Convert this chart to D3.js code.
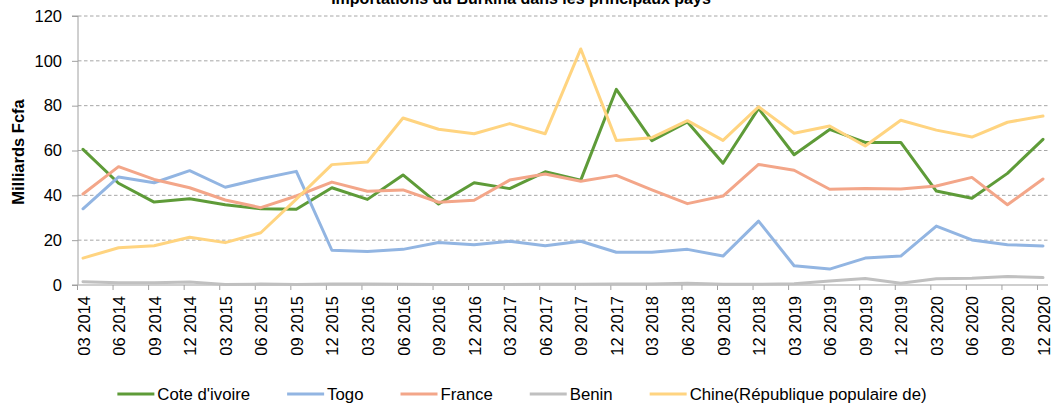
<!DOCTYPE html>
<html>
<head>
<meta charset="utf-8">
<script src="https://cdn.jsdelivr.net/npm/d3@7"></script>
<style>
  html, body { margin: 0; padding: 0; background: #fff; }
  svg { display: block; font-family: "Liberation Sans", Arial, sans-serif; }
</style>
</head>
<body>
<svg id="chart" width="1055" height="406"></svg>
<script>
const categories = ["03 2014","06 2014","09 2014","12 2014","03 2015","06 2015","09 2015","12 2015",
  "03 2016","06 2016","09 2016","12 2016","03 2017","06 2017","09 2017","12 2017",
  "03 2018","06 2018","09 2018","12 2018","03 2019","06 2019","09 2019","12 2019",
  "03 2020","06 2020","09 2020","12 2020"];

const coteIvoire = [60.5, 45.4, 37.0, 38.5, 35.8, 34.0, 33.8, 43.4, 38.2, 49.1, 36.1, 45.6, 43.0, 50.5, 46.8, 87.3, 64.4, 72.7, 54.3, 78.8, 58.1, 69.4, 63.6, 63.6, 41.9, 38.7, 49.8, 65.0];
const togo       = [34.0, 48.2, 45.6, 51.0, 43.6, 47.4, 50.7, 15.5, 14.9, 15.9, 19.0, 18.0, 19.5, 17.5, 19.5, 14.6, 14.6, 15.9, 12.9, 28.5, 8.6, 7.1, 12.0, 12.9, 26.3, 20.1, 18.0, 17.4];
const france     = [40.6, 52.8, 47.1, 43.4, 37.9, 34.5, 39.7, 45.9, 41.8, 42.4, 36.9, 37.8, 46.8, 49.5, 46.3, 48.9, 42.4, 36.3, 39.7, 53.8, 51.2, 42.7, 43.1, 42.8, 44.2, 48.0, 35.8, 47.3];
const benin      = [1.5, 1.0, 1.0, 1.3, 0.2, 0.4, 0.2, 0.4, 0.4, 0.3, 0.2, 0.2, 0.2, 0.3, 0.3, 0.5, 0.5, 0.8, 0.3, 0.3, 0.6, 1.8, 2.9, 0.8, 2.8, 3.0, 3.8, 3.3];
const chine      = [12.0, 16.6, 17.5, 21.3, 18.9, 23.3, 38.3, 53.7, 54.9, 74.5, 69.5, 67.5, 72.0, 67.5, 105.3, 64.5, 65.7, 73.3, 64.5, 79.5, 67.7, 70.9, 62.0, 73.5, 69.1, 66.0, 72.6, 75.4];

const seriesNames = ["Cote d'ivoire", "Togo", "France", "Benin", "Chine(République populaire de)"];
const yTicks = [0, 20, 40, 60, 80, 100, 120];
const titleText = "Importations du Burkina dans les principaux pays";
const yLabel = "Milliards Fcfa";

const seriesValues = [coteIvoire, togo, france, benin, chine];
const colors = ["#5E9B38", "#92B5E2", "#F3A689", "#C0C0C0", "#FFD480"];

const svg = d3.select("#chart");
const plotLeft = 78, plotRight = 1048, plotTop = 16, plotBottom = 285;
const x = d3.scalePoint().domain(categories).range([83, 1043]);
const y = d3.scaleLinear().domain([0, 120]).range([plotBottom, plotTop]);
const tickShift = -6;
const fs = 16.5;

// gridlines
svg.append("g").selectAll("line")
  .data(yTicks.filter(d => d > 0))
  .join("line")
  .attr("x1", plotLeft).attr("x2", plotRight)
  .attr("y1", d => y(d)).attr("y2", d => y(d))
  .attr("stroke", "#A6A6A6").attr("stroke-width", 1)
  .attr("stroke-dasharray", "3.5,2.5");

// y axis
const yAxis = svg.append("g")
  .attr("transform", `translate(${plotLeft},0)`)
  .call(d3.axisLeft(y).tickValues(yTicks).tickSize(6).tickPadding(10).tickFormat(d3.format("d")));
yAxis.select(".domain").attr("stroke", "#A0A0A0").attr("d", `M-6,${plotTop}H0V${plotBottom}H-6`);
yAxis.selectAll(".tick line").attr("stroke", "#A0A0A0");
yAxis.selectAll(".tick text").attr("font-size", fs).attr("fill", "#000")
  .attr("font-family", "'Liberation Sans', Arial, sans-serif");

// x axis
const xAxis = svg.append("g")
  .attr("transform", `translate(0,${plotBottom})`)
  .call(d3.axisBottom(x).tickSize(5).tickSizeOuter(0));
xAxis.select(".domain").attr("stroke", "#BFBFBF").attr("stroke-width", 1.5)
  .attr("d", `M${plotLeft},0H${plotRight}`);
xAxis.selectAll(".tick line").attr("stroke", "#A0A0A0").attr("x1", tickShift).attr("x2", tickShift);
xAxis.selectAll(".tick text")
  .attr("font-size", fs).attr("fill", "#000")
  .attr("font-family", "'Liberation Sans', Arial, sans-serif")
  .attr("text-anchor", "end")
  .attr("dy", null)
  .attr("y", null)
  .attr("transform", "translate(6,11) rotate(-90)");

// lines
const line = d3.line().x((d, i) => x(categories[i])).y(d => y(d));
const drawOrder = [0, 1, 2, 3, 4];
svg.append("g").selectAll("path")
  .data(drawOrder)
  .join("path")
  .attr("d", i => line(seriesValues[i]))
  .attr("fill", "none")
  .attr("stroke", i => colors[i])
  .attr("stroke-width", 3)
  .attr("stroke-linejoin", "round")
  .attr("stroke-linecap", "round");

// title (cut off at the top, as in the reference)
svg.append("text")
  .attr("x", 521).attr("y", 4)
  .attr("text-anchor", "middle")
  .attr("font-weight", "bold")
  .attr("font-size", 16)
  .attr("fill", "#000")
  .text(titleText);

// y label
svg.append("text")
  .attr("transform", "translate(24,152) rotate(-90)")
  .attr("text-anchor", "middle")
  .attr("font-weight", "bold")
  .attr("font-size", fs)
  .attr("fill", "#000")
  .text(yLabel);

// legend
const legend = svg.append("g").attr("transform", "translate(0,394)");
const items = legend.selectAll("g").data(seriesNames).join("g");
items.append("line").attr("x1", 0).attr("x2", 37).attr("y1", 0).attr("y2", 0)
  .attr("stroke", (d, i) => colors[i]).attr("stroke-width", 3);
items.append("text").attr("x", 40).attr("y", 0).attr("dy", "0.35em")
  .attr("font-size", 16.8).attr("fill", "#000").text(d => d);
let widths = [];
items.each(function() { widths.push(40 + d3.select(this).select("text").node().getComputedTextLength()); });
const gap = 37;
const total = d3.sum(widths) + gap * (widths.length - 1);
let cx = 522 - total / 2;
items.attr("transform", (d, i) => { const t = `translate(${cx},0)`; cx += widths[i] + gap; return t; });
</script>
</body>
</html>
